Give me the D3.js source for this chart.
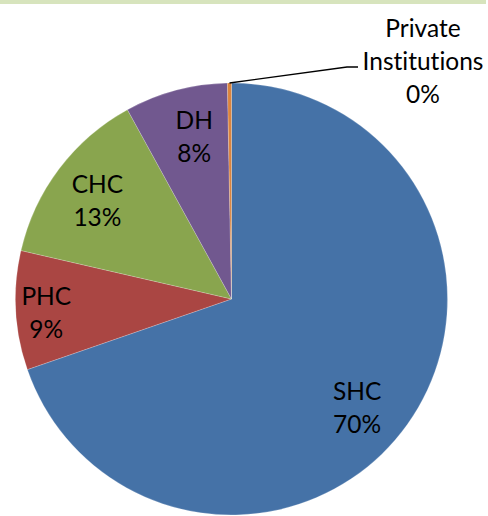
<!DOCTYPE html>
<html>
<head>
<meta charset="utf-8">
<script src="https://cdn.jsdelivr.net/npm/d3@7"></script>
<style>
  html, body { margin: 0; padding: 0; background: #fff; }
  svg { display: block; }
  text { font-family: Lato, "Noto Sans", sans-serif; fill: #000; font-variant-ligatures: none; font-feature-settings: "liga" 0, "clig" 0; }
</style>
</head>
<body>
<svg id="chart" width="488" height="516"></svg>
<script>
// ---- data ----
const categories = ["SHC", "PHC", "CHC", "DH", "Private Institutions"];
const values = [69.7, 8.9, 13.4, 7.7, 0.3];
const colors = ["#4572A7", "#AA4643", "#89A54E", "#71588F", "#DB843D"];

// ---- layout (label placement relative to slice centroid) ----
const labelAngleShift = [5.5, -1.3, -0.8, 2, 0];   // degrees
const labelRadiusFrac = [0.77, 0.86, 0.77, 0.77, 0];
const outsideLabel = { x: 423, y: 61, elbowX: 347, elbowY: 67, endX: 358 };

const W = 488, H = 516;
const cx = 231.5, cy = 299, R = 216;
const fontSize = 24.5, lineH = 33;

const svg = d3.select("#chart");

// top band
svg.append("rect").attr("x", 0).attr("y", 0).attr("width", 486).attr("height", 4)
  .attr("fill", "#D7E4BD");

const total = d3.sum(values);
const pie = d3.pie().sort(null).value(d => d.v).startAngle(0).endAngle(2 * Math.PI);
const data = categories.map((c, i) => ({ c, v: values[i], i }));
const arcs = pie(data);
const arc = d3.arc().innerRadius(0).outerRadius(R);

const g = svg.append("g").attr("transform", `translate(${cx},${cy})`);

g.selectAll("path.slice").data(arcs).enter().append("path")
  .attr("class", "slice")
  .attr("d", arc)
  .attr("fill", d => colors[d.data.i])
  .attr("stroke", "#ffffff")
  .attr("stroke-opacity", 0.5)
  .attr("stroke-width", 0.4);

function polar(angle, r) { return [r * Math.sin(angle), -r * Math.cos(angle)]; }
const pctText = v => Math.round(v / total * 100) + "%";

// inside labels
arcs.forEach((d, k) => {
  if (d.data.i === 4) return;
  const mid = (d.startAngle + d.endAngle) / 2 + labelAngleShift[k] * Math.PI / 180;
  const [x, y] = polar(mid, R * labelRadiusFrac[k]);
  const lines = [d.data.c, pctText(d.data.v)];
  lines.forEach((t, j) => {
    g.append("text")
      .attr("x", x)
      .attr("y", y + (j - (lines.length - 1) / 2) * lineH + fontSize * 0.36)
      .attr("text-anchor", "middle")
      .attr("font-size", fontSize)
      .text(t);
  });
});

// outside label with leader line for the tiny slice
const tiny = arcs[4];
const tMid = (tiny.startAngle + tiny.endAngle) / 2;
const [sx, sy] = polar(tMid, R);
svg.append("path")
  .attr("d", d3.line()([[cx + sx, cy + sy], [outsideLabel.elbowX, outsideLabel.elbowY], [outsideLabel.endX, outsideLabel.elbowY]]))
  .attr("fill", "none")
  .attr("stroke", "#000")
  .attr("stroke-width", 1.3);

const outLines = ["Private", "Institutions", pctText(tiny.data.v)];
outLines.forEach((t, j) => {
  svg.append("text")
    .attr("x", outsideLabel.x)
    .attr("y", outsideLabel.y + (j - 1) * lineH + fontSize * 0.36)
    .attr("text-anchor", "middle")
    .attr("font-size", fontSize)
    .text(t);
});
</script>
</body>
</html>
